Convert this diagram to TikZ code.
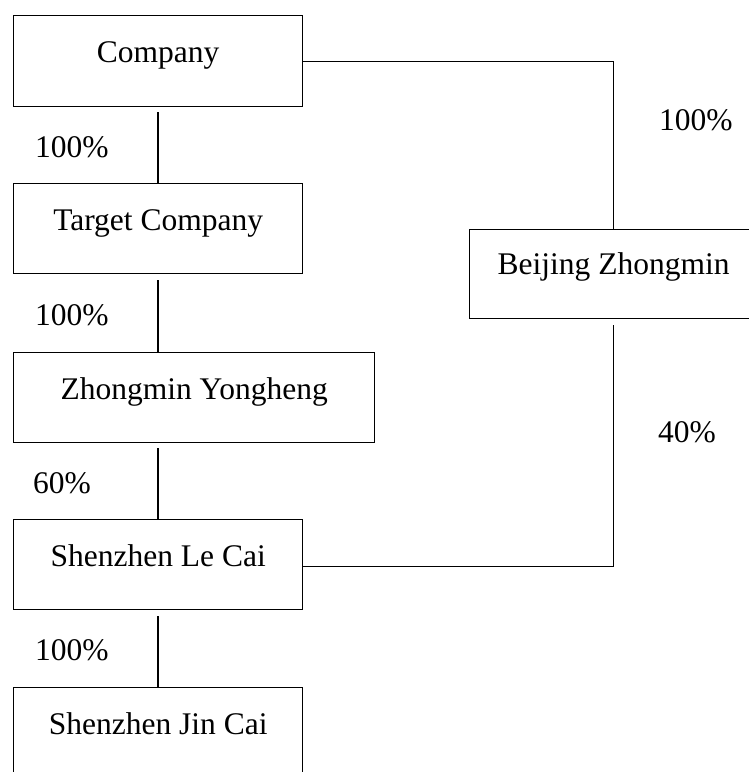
\documentclass[tikz,border=0pt]{standalone}
\usepackage{fontspec}
\setmainfont{Liberation Serif}
\usetikzlibrary{positioning}
\begin{document}
\begin{tikzpicture}[x=1pt,y=-1pt,
  every node/.style={font=\fontsize{31.5}{36}\selectfont},
  box/.style={draw, line width=1.3pt, rectangle, inner sep=0pt, anchor=north west,
    text height=47pt, text depth=43pt},
  pct/.style={anchor=base west, inner sep=0pt},
  link/.style={line width=1.3pt}]
\useasboundingbox (0,0) rectangle (749,772);
\clip (0,0) rectangle (749,772);
\node[box, minimum width=289pt, text depth=44pt] (company) at (13,15) {Company};
\node[box, minimum width=289pt] (target) at (13,183) {Target Company};
\node[box, minimum width=361pt] (yong) at (13,352) {Zhongmin Yongheng};
\node[box, minimum width=289pt] (lecai) at (13,519) {Shenzhen Le Cai};
\node[box, minimum width=289pt, text depth=80pt] (jincai) at (13,687) {Shenzhen Jin Cai};
\node[box, minimum width=288pt, text height=45pt, text depth=44pt] (beijing) at (469,229) {Beijing Zhongmin};
\coordinate (spine) at (158,0);
\draw[link] ([yshift=-5pt]company.south -| spine) -- (target.north -| spine);
\draw[link] ([yshift=-6pt]target.south -| spine) -- (yong.north -| spine);
\draw[link] ([yshift=-5pt]yong.south -| spine) -- (lecai.north -| spine);
\draw[link] ([yshift=-6pt]lecai.south -| spine) -- (jincai.north -| spine);
\draw[link] (company.east) -| (beijing.north);
\draw[link] ([yshift=-6pt]beijing.south) |- ([yshift=-2pt]lecai.east);
\node[pct] (p1) at (35,157) {100\%};
\node[pct] (p2) at (35,325) {100\%};
\node[pct] (p3) at (33,493) {60\%};
\node[pct] (p4) at (35,660) {100\%};
\node[pct] (p5) at (659,130) {100\%};
\node[pct] (p6) at (658,442) {40\%};
\end{tikzpicture}
\end{document}
